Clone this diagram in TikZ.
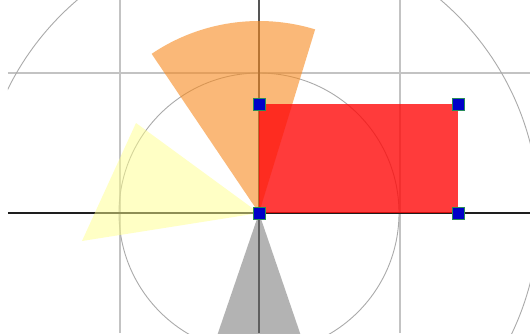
\documentclass[tikz,border=0pt]{standalone}
\usetikzlibrary{calc}
\definecolor{gridc}{RGB}{195,195,195}
\definecolor{circc}{RGB}{170,170,170}
\definecolor{axisc}{RGB}{30,30,30}
\definecolor{vaxisc}{RGB}{85,85,85}
\definecolor{orangec}{RGB}{247,138,30}
\definecolor{yellowc}{RGB}{255,255,140}
\definecolor{grayc}{RGB}{105,105,105}
\definecolor{redc}{RGB}{255,10,10}
\definecolor{bluec}{RGB}{0,0,200}
\definecolor{edgec}{RGB}{40,140,90}
\tikzset{
  gridline/.style={draw=gridc, line width=1.1pt},
  circline/.style={draw=circc, line width=0.9pt},
  axisline/.style={draw=axisc, line width=1.4pt},
  vaxisline/.style={draw=vaxisc, line width=1.4pt},
  handle/.style={rectangle, fill=bluec, draw=edgec, line width=0.6pt, minimum size=12pt, inner sep=0pt},
}
\begin{document}
\begin{tikzpicture}[x=1pt,y=1pt]
\useasboundingbox (-259,-120) rectangle (271,213);
\fill[white] (-259,-120) rectangle (271,213);
\begin{scope}
\clip (-251,-120) rectangle (271,213);
% grid
\draw[gridline] (-139,-120) -- (-139,213);
\draw[gridline] (141,-120) -- (141,213);
\draw[gridline] (-251,140) -- (271,140);
% circles
\draw[circline] (0,0) circle (140);
\draw[circline] (0,0) circle (280);
% axes
\draw[axisline] (-251,0) -- (271,0);
\draw[vaxisline] (0,-120) -- (0,213);
% sectors
\fill[orangec, opacity=0.6] (0,0) -- (73:192) arc[start angle=73, end angle=124, radius=192] -- cycle;
\fill[yellowc, opacity=0.5] (0,0) -- (-123,90) -- (-177,-28) -- cycle;
\fill[grayc, opacity=0.5] (0,0) -- (-55,-161) -- (55,-161) -- cycle;
% rectangle
\fill[redc, opacity=0.8] (0,0) rectangle (199,109);
\end{scope}
% handles
\node[handle] (h1) at (0,0) {};
\node[handle] (h2) at (199,0) {};
\node[handle] (h3) at (0,109) {};
\node[handle] (h4) at (199,109) {};
\end{tikzpicture}
\end{document}
